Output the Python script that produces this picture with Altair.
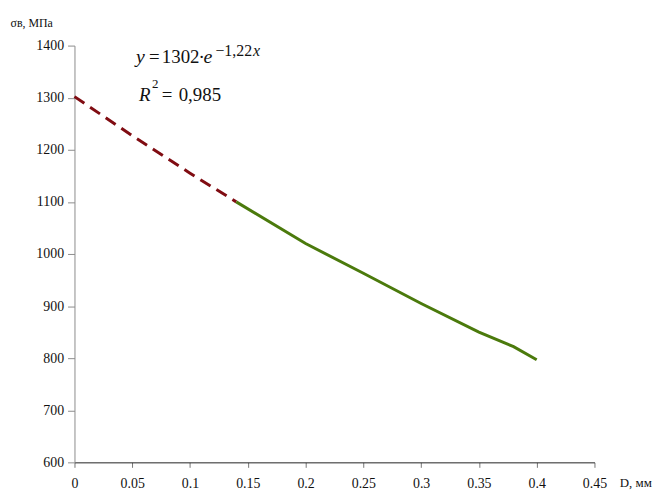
import altair as alt
import pandas as pd

# Extrapolated (dashed) part of the trend line
dash_d = [0.0, 0.05, 0.10, 0.14]
dash_sigma = [1302, 1227, 1155, 1100]

# Measured (solid) part
solid_d = [0.14, 0.20, 0.25, 0.30, 0.35, 0.38, 0.40]
solid_sigma = [1100, 1020, 963, 905, 850, 822, 797]

x_ticks = [0, 0.05, 0.1, 0.15, 0.2, 0.25, 0.3, 0.35, 0.4, 0.45]
y_ticks = [600, 700, 800, 900, 1000, 1100, 1200, 1300, 1400]

FONT = "Liberation Serif"

x_scale = alt.Scale(domain=[0, 0.45], nice=False, zero=False)
y_scale = alt.Scale(domain=[600, 1400], nice=False, zero=False)

x_axis = alt.Axis(
    values=x_ticks, format="~g", grid=False,
    domainColor="#222222", tickColor="#777777", tickSize=5,
    labelFont=FONT, labelFontSize=14, labelColor="#111111", labelPadding=9,
    labelFlush=False,
    title="D, мм", titleFont=FONT, titleFontSize=13, titleFontWeight="normal",
    titleColor="#111111", titleAngle=0, titleAlign="left", titleBaseline="alphabetic",
    titleX=549, titleY=24,
)
y_axis = alt.Axis(
    values=y_ticks, format="d", grid=False,
    domainColor="#8c8c8c", tickColor="#8c8c8c", tickSize=7,
    labelFont=FONT, labelFontSize=14, labelColor="#111111", labelPadding=4,
    labelFlush=False,
    title="σв, МПа", titleFont=FONT, titleFontSize=12, titleFontWeight="normal",
    titleColor="#111111", titleAngle=0, titleAlign="left", titleBaseline="alphabetic",
    titleX=-65, titleY=-19,
)

dash_df = pd.DataFrame({"D": dash_d, "sigma": dash_sigma})
solid_df = pd.DataFrame({"D": solid_d, "sigma": solid_sigma})

dashed = alt.Chart(dash_df).mark_line(
    color="#800c12", strokeWidth=3, strokeDash=[12, 7], strokeCap="butt"
).encode(
    x=alt.X("D:Q", scale=x_scale, axis=x_axis),
    y=alt.Y("sigma:Q", scale=y_scale, axis=y_axis),
)

solid = alt.Chart(solid_df).mark_line(
    color="#4b7a0c", strokeWidth=3
).encode(
    x=alt.X("D:Q", scale=x_scale),
    y=alt.Y("sigma:Q", scale=y_scale),
)


def label(s, px, py, size, italic=False):
    kw = dict(font=FONT, fontSize=size, align="left", baseline="alphabetic", color="#111111")
    if italic:
        kw["fontStyle"] = "italic"
    return alt.Chart(pd.DataFrame({"t": [s]})).mark_text(**kw).encode(
        x=alt.value(px), y=alt.value(py), text="t:N"
    )


texts = [
    label("y", 62, 18, 20, True),
    label("=", 75, 18, 19),
    label("1302", 88, 18, 19),
    label("·", 125, 18, 19),
    label("e", 130, 18, 20, True),
    label("−1,22", 142, 11, 16),
    label("x", 180, 11, 16, True),
    label("R", 65, 56, 19, True),
    label("2", 78, 43, 13),
    label("=", 88, 56, 19),
    label("0,985", 105, 56, 19),
]

chart = alt.layer(dashed, solid, *texts).properties(
    width=524,
    height=420,
    autosize=alt.AutoSizeParams(type="none"),
    padding={"left": 67, "top": 36, "right": 60, "bottom": 28},
).configure_view(stroke=None)

chart.save("out.html", embed_options={"renderer": "svg", "actions": False})
